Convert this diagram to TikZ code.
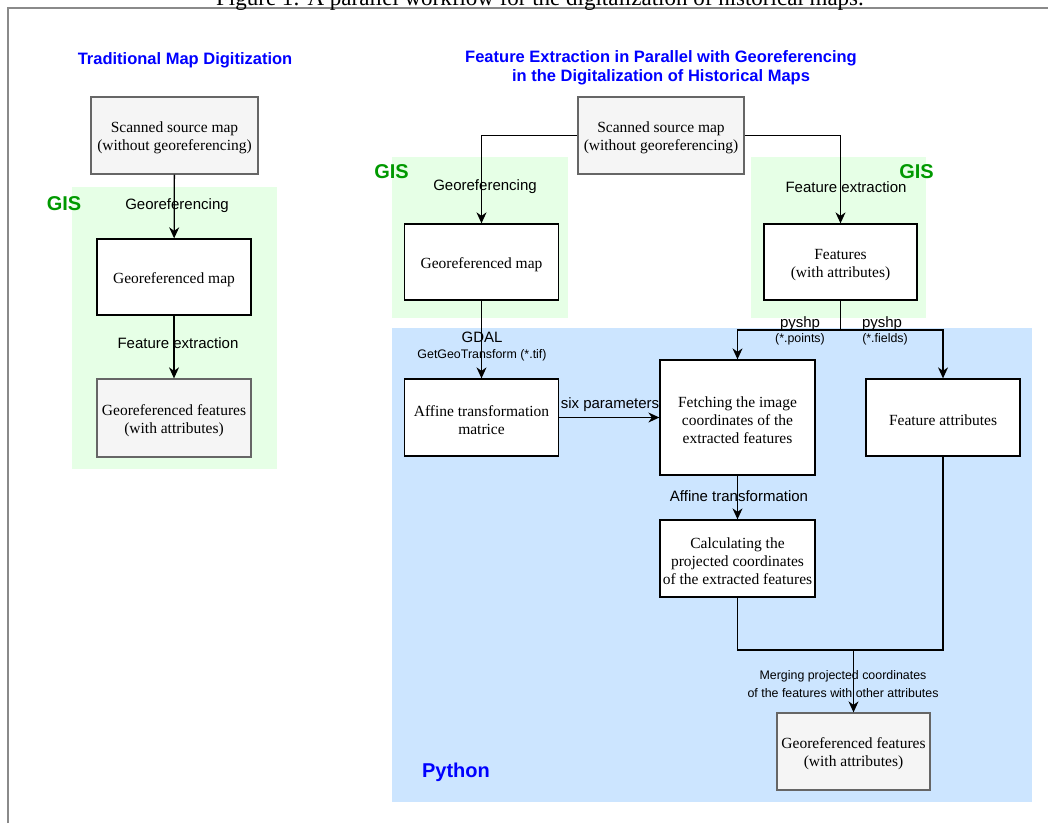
\documentclass[tikz,border=0pt]{standalone}
\usepackage{fontspec}
\setmainfont{Liberation Serif}
\setsansfont{Liberation Sans}
\usetikzlibrary{arrows.meta}
\definecolor{gisgreen}{HTML}{009900}
\definecolor{greenbg}{HTML}{E6FFE6}
\definecolor{bluebg}{HTML}{CCE5FF}
\definecolor{titleblue}{HTML}{0000FF}
\definecolor{grayfill}{HTML}{F5F5F5}
\definecolor{graystroke}{HTML}{666666}
\definecolor{framegray}{HTML}{8A8A8A}
\tikzset{
  boxw/.style={draw=black, fill=white, line width=1.3pt, inner sep=0pt},
  boxg/.style={boxw, draw=graystroke, fill=grayfill},
  btxt/.style={inner sep=0pt, align=center, font=\fontsize{15.5}{18}\selectfont\rmfamily},
  lbl/.style={inner sep=0pt, font=\fontsize{15}{18}\selectfont\sffamily},
  small/.style={inner sep=0pt, align=center, font=\fontsize{12.4}{18}\selectfont\sffamily},
  gis/.style={inner sep=0pt, text=gisgreen, font=\fontsize{20}{24}\selectfont\sffamily\bfseries},
  ttl/.style={inner sep=0pt, text=titleblue, align=center, font=\fontsize{16.5}{19}\selectfont\sffamily\bfseries},
  conn/.style={line width=1.3pt, draw=black},
  arr/.style={conn, -{Stealth[length=11pt, width=10pt, inset=3.5pt]}},
}
\begin{document}
\begin{tikzpicture}[x=1pt, y=-1pt]
\useasboundingbox (0,0) rectangle (1048,823);
% page frame and cut caption
\draw[framegray, line width=1.4pt] (8,823) -- (8,8) -- (1048,8);
\node[anchor=base, inner sep=0pt, font=\fontsize{23}{28}\selectfont\rmfamily] (cap) at (540,5.7) {Figure 1: A parallel workflow for the digitalization of historical maps.};
% backgrounds
\fill[greenbg] (72,187) rectangle (277,469);
\fill[greenbg] (392,157) rectangle (568,318);
\fill[greenbg] (751,157) rectangle (926,318);
\fill[bluebg] (392,328) rectangle (1032,802);
% titles
\node[ttl] (t1) at (185,60.5) {Traditional Map Digitization};
\node[ttl] (t2) at (661,67.5) {Feature Extraction in Parallel with Georeferencing\\in the Digitalization of Historical Maps};
\node[gis] (gis1) at (64,204) {GIS};
\node[gis] (gis2) at (391.5,172) {GIS};
\node[gis] (gis3) at (916.5,172) {GIS};
\node[ttl, font=\fontsize{20}{24}\selectfont\sffamily\bfseries] (py) at (456,772) {Python};
% left workflow
\node[boxg, minimum width=167pt, minimum height=77pt] (L1) at (174.5,135.5) {};
\node[btxt] (L1t) at ([yshift=-2.5pt]L1.center) {Scanned source map\\(without georeferencing)};
\node[boxw, minimum width=154pt, minimum height=76pt] (L2) at (174,277) {};
\node[btxt] (L2t) at ([yshift=-2.5pt]L2.center) {Georeferenced map};
\node[boxg, minimum width=154pt, minimum height=78pt] (L3) at (174,418) {};
\node[btxt] (L3t) at ([yshift=-2.5pt]L3.center) {Georeferenced features\\(with attributes)};
\draw[arr] (L1) -- (L2);
\draw[arr] (L2) -- (L3);
\node[lbl] (l1) at (177,205.5) {Georeferencing};
\node[lbl] (l2) at (178,343) {Feature extraction};
% right workflow
\node[boxg, minimum width=166pt, minimum height=77pt] (R1) at (661,135.5) {};
\node[btxt] (R1t) at ([yshift=-2.5pt]R1.center) {Scanned source map\\(without georeferencing)};
\node[boxw, minimum width=154pt, minimum height=76pt] (RG) at (481.5,262) {};
\node[btxt] (RGt) at ([yshift=-3pt]RG.center) {Georeferenced map};
\node[boxw, minimum width=153pt, minimum height=76pt] (RF) at (840.5,262) {};
\node[btxt] (RFt) at ([yshift=-3pt]RF.center) {Features\\(with attributes)};
\node[boxw, minimum width=154pt, minimum height=77pt] (AM) at (481.5,417.5) {};
\node[btxt] (AMt) at ([yshift=-2.5pt]AM.center) {Affine transformation\\matrice};
\node[boxw, minimum width=155pt, minimum height=115pt] (FE) at (737.5,417.5) {};
\node[btxt] (FEt) at ([yshift=-2.5pt]FE.center) {Fetching the image\\coordinates of the\\extracted features};
\node[boxw, minimum width=154pt, minimum height=77pt] (FA) at (943,417.5) {};
\node[btxt] (FAt) at ([yshift=-2.5pt]FA.center) {Feature attributes};
\node[boxw, minimum width=155pt, minimum height=77pt] (CA) at (737.5,558.5) {};
\node[btxt] (CAt) at ([yshift=-2.5pt]CA.center) {Calculating the\\projected coordinates\\of the extracted features};
\node[boxg, minimum width=153pt, minimum height=77pt] (GF) at (853.5,751.5) {};
\node[btxt] (GFt) at ([yshift=-2.5pt]GF.center) {Georeferenced features\\(with attributes)};
\coordinate (sp) at (840.5,330);
\coordinate (mg) at (853.5,650);
\draw[arr] (R1.west) -| (RG.north);
\draw[arr] (R1.east) -| (RF.north);
\draw[arr] (RG) -- (AM);
\draw[conn] (RF.south) -- (sp);
\draw[arr] (sp) -| (FE.north);
\draw[arr] (sp) -| (FA.north);
\draw[arr] (AM) -- (FE);
\draw[arr] (FE) -- (CA);
\draw[conn] (CA.south) |- (FA.south |- mg) -- (FA.south);
\draw[arr] (mg) -- (GF.north);
% labels
\node[lbl] (l3) at (485,187) {Georeferencing};
\node[lbl] (l4) at (846,187) {Feature extraction};
\node[lbl] (l5) at (482,337.5) {GDAL};
\node[small] (l6) at (482,355) {GetGeoTransform (*.tif)};
\node[lbl] (l7) at (800,323.5) {pyshp};
\node[small] (l8) at (800,339.5) {(*.points)};
\node[lbl] (l9) at (882,323.5) {pyshp};
\node[small] (l10) at (885,339.5) {(*.fields)};
\node[lbl] (l11) at (610,405) {six parameters};
\node[lbl] (l12) at (739,496) {Affine transformation};
\node[small] (l13) at (843,684) {Merging projected coordinates\\of the features with other attributes};
\end{tikzpicture}
\end{document}
